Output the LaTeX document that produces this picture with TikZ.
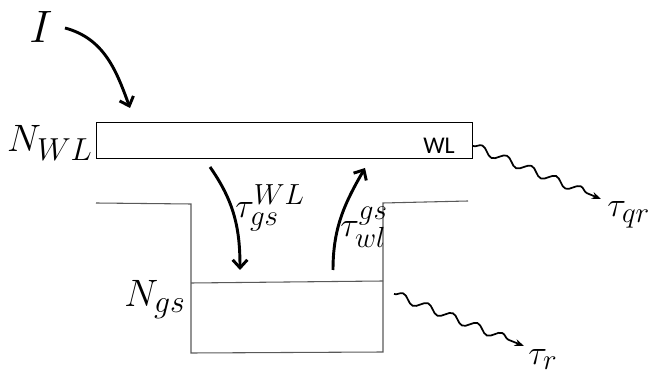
\documentclass[tikz,border=0pt]{standalone}
\usepackage{fontspec}
\newfontfamily\wlfont{Carlito}
\usetikzlibrary{arrows.meta,decorations.pathmorphing}
\begin{document}
\begin{tikzpicture}
[x=0.75pt,y=-0.75pt,
huge/.style={font=\Huge,scale=1.37,inner sep=0pt},
big/.style={font=\Huge,scale=1.15,inner sep=0pt},
rate/.style={font=\Huge,scale=1.05,inner sep=0pt},
well/.style={draw=black!65,line width=0.8pt},
flow/.style={line width=2.2pt,-{Straight Barb[length=6pt,width=11pt]}},
decay/.style={line width=1.3pt,-{Stealth[length=7pt]},decorate,
  decoration={snake,amplitude=3pt,segment length=20pt,post length=7pt}}]
\useasboundingbox (0,0) rectangle (667,377);
% levels
\node[draw,line width=1pt,minimum width=282pt,minimum height=27pt,inner sep=0pt,anchor=north west] (wl) at (96,122) {};
\node[font=\wlfont\fontsize{18}{21}\selectfont] (wltxt) at (439,146) {WL};
\draw[well] (96,203) -- (191,204) -- (191,353) -- (383,352) -- (383,203) -- (468,201);
\draw[well] (191,283) -- (383,281);
% labels
\node[huge,anchor=base] (inp) at (41,43) {$I$};
\node[big,anchor=base east] (nwl) at (93,152) {$N_{WL}$};
\node[big,anchor=base east] (ngs) at (186,307) {$N_{gs}$};
\node[rate,anchor=west] (tgs) at (235,208) {$\tau_{gs}^{WL}$};
\node[rate,anchor=west] (twl) at (340,227) {$\tau_{wl}^{gs}$};
\node[rate,anchor=base west] (tqr) at (607,217) {$\tau_{qr}$};
\node[rate,anchor=base west] (tr) at (528,364) {$\tau_{r}$};
% end points
\coordinate (ia) at (65,28);
\coordinate (ib) at (130,108);
\coordinate (da) at (210,167);
\coordinate (db) at (240,270);
\coordinate (ua) at (333,270);
\coordinate (ub) at (365,168);
\coordinate (qa) at (473,146);
\coordinate (qb) at (601,199);
\coordinate (ra) at (394,294);
\coordinate (rb) at (524,346);
% arrows
\draw[flow] (ia) to[out=-15,in=110] (ib);
\draw[flow] (da) to[out=-55,in=90] (db);
\draw[flow] (ua) to[out=90,in=-120] (ub);
\draw[decay] (qa) -- (qb);
\draw[decay] (ra) -- (rb);
\end{tikzpicture}
\end{document}
